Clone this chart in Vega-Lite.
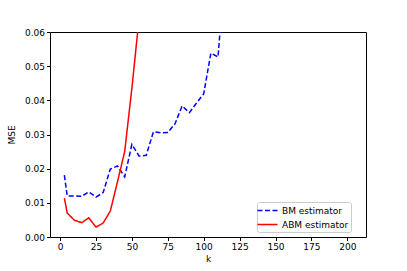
{
  "$schema": "https://vega.github.io/schema/vega-lite/v6.json",
  "autosize": {"type": "none"},
  "padding": {"left": 50, "top": 32, "right": 40, "bottom": 34},
  "width": 316,
  "height": 205,
  "config": {
    "font": "DejaVu Sans",
    "view": {"stroke": "#000000", "strokeWidth": 1},
    "axis": {"labelFont": "DejaVu Sans", "titleFont": "DejaVu Sans", "labelFontSize": 9, "titleFontSize": 9, "labelColor": "#000", "titleColor": "#000", "titleFontWeight": "normal", "grid": false, "domain": false, "tickColor": "#000", "tickSize": 3.5, "labelPadding": 2},
    "legend": {"title": null, "orient": "none", "legendX": 207, "legendY": 170, "symbolType": "M-1.82,0H1.82", "symbolSize": 121, "symbolOffset": 2, "symbolStrokeWidth": 1.5, "labelFontSize": 9, "labelFont": "DejaVu Sans", "labelColor": "#000", "rowPadding": 2, "padding": 2, "strokeColor": "#cccccc", "cornerRadius": 2, "fillColor": "#ffffff", "labelOffset": 8, "symbolFillColor": "transparent"}
  },
  "data": {"values": [
    {"k": 3, "mse": 0.0181, "est": "BM estimator"},
    {"k": 5, "mse": 0.0120, "est": "BM estimator"},
    {"k": 10, "mse": 0.0120, "est": "BM estimator"},
    {"k": 15, "mse": 0.0119, "est": "BM estimator"},
    {"k": 20, "mse": 0.0132, "est": "BM estimator"},
    {"k": 25, "mse": 0.0117, "est": "BM estimator"},
    {"k": 30, "mse": 0.0130, "est": "BM estimator"},
    {"k": 35, "mse": 0.0199, "est": "BM estimator"},
    {"k": 40, "mse": 0.0208, "est": "BM estimator"},
    {"k": 45, "mse": 0.0176, "est": "BM estimator"},
    {"k": 50, "mse": 0.0271, "est": "BM estimator"},
    {"k": 55, "mse": 0.0237, "est": "BM estimator"},
    {"k": 60, "mse": 0.0239, "est": "BM estimator"},
    {"k": 65, "mse": 0.0308, "est": "BM estimator"},
    {"k": 70, "mse": 0.0305, "est": "BM estimator"},
    {"k": 75, "mse": 0.0306, "est": "BM estimator"},
    {"k": 80, "mse": 0.0331, "est": "BM estimator"},
    {"k": 85, "mse": 0.0384, "est": "BM estimator"},
    {"k": 90, "mse": 0.0364, "est": "BM estimator"},
    {"k": 95, "mse": 0.0392, "est": "BM estimator"},
    {"k": 100, "mse": 0.0419, "est": "BM estimator"},
    {"k": 105, "mse": 0.0538, "est": "BM estimator"},
    {"k": 110, "mse": 0.0527, "est": "BM estimator"},
    {"k": 115, "mse": 0.0800, "est": "BM estimator"},
    {"k": 120, "mse": 0.1000, "est": "BM estimator"},
    {"k": 3, "mse": 0.0114, "est": "ABM estimator"},
    {"k": 5, "mse": 0.0070, "est": "ABM estimator"},
    {"k": 10, "mse": 0.0049, "est": "ABM estimator"},
    {"k": 15, "mse": 0.0042, "est": "ABM estimator"},
    {"k": 20, "mse": 0.0056, "est": "ABM estimator"},
    {"k": 25, "mse": 0.0029, "est": "ABM estimator"},
    {"k": 30, "mse": 0.0041, "est": "ABM estimator"},
    {"k": 35, "mse": 0.0076, "est": "ABM estimator"},
    {"k": 40, "mse": 0.0162, "est": "ABM estimator"},
    {"k": 45, "mse": 0.0250, "est": "ABM estimator"},
    {"k": 50, "mse": 0.0435, "est": "ABM estimator"},
    {"k": 55, "mse": 0.0640, "est": "ABM estimator"},
    {"k": 60, "mse": 0.0900, "est": "ABM estimator"}
  ]},
  "mark": {"type": "line", "clip": true, "strokeWidth": 1.5},
  "encoding": {
    "x": {"field": "k", "type": "quantitative", "scale": {"domain": [-7, 213], "nice": false, "zero": false},
      "axis": {"values": [0, 25, 50, 75, 100, 125, 150, 175, 200], "title": "k", "titlePadding": 3}},
    "y": {"field": "mse", "type": "quantitative", "scale": {"domain": [0, 0.06], "nice": false},
      "axis": {"values": [0, 0.01, 0.02, 0.03, 0.04, 0.05, 0.06], "format": ".2f", "title": "MSE", "titlePadding": 8}},
    "color": {"field": "est", "type": "nominal",
      "scale": {"domain": ["BM estimator", "ABM estimator"], "range": ["#0000ff", "#ff0000"]},
      "legend": {}},
    "strokeDash": {"field": "est", "type": "nominal",
      "scale": {"domain": ["BM estimator", "ABM estimator"], "range": [[5, 2.5], [1, 0]]},
      "legend": {}}
  }
}
